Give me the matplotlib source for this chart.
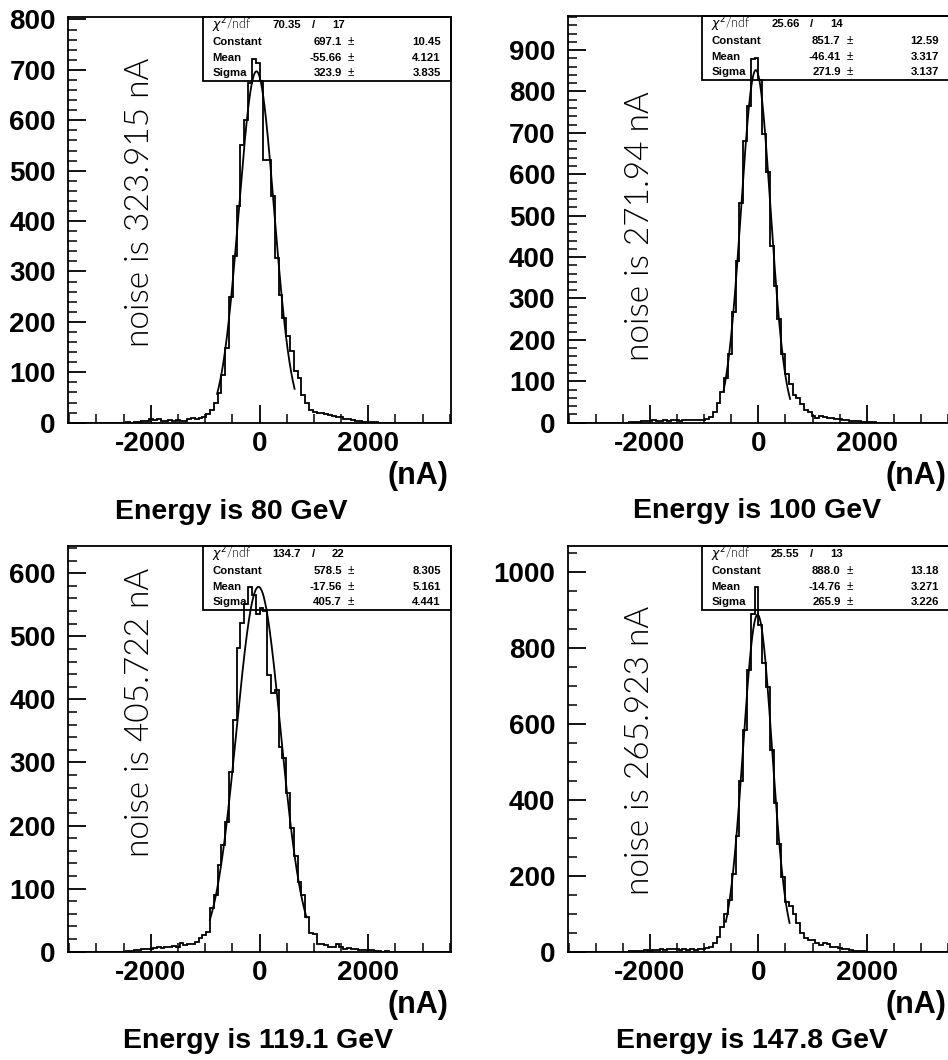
import numpy as np
import matplotlib
matplotlib.use("Agg")
import matplotlib.pyplot as plt
from matplotlib.patches import Rectangle
from matplotlib.ticker import MultipleLocator

plt.rcParams["axes.unicode_minus"] = False

# ---------------- data ----------------
x_lo, x_hi, n_bins = -3500.0, 3500.0, 100

energies = ["80", "100", "119.1", "147.8"]
noise = ["323.915", "271.94", "405.722", "265.923"]

counts_80 = [
    0, 0, 0, 0, 0, 0, 0, 0, 0, 0,
    0, 0, 0, 0, 0, 1, 0, 1, 2, 4,
    3, 7, 5, 8, 3, 4, 6, 4, 5, 3,
    4, 8, 9, 8, 10, 12, 18, 25, 40, 58,
    95, 148, 250, 330, 430, 550, 600, 673, 722, 713,
    677, 521, 521, 450, 326, 254, 207, 172, 142, 103,
    88, 55, 40, 25, 21, 20, 19, 18, 16, 14,
    12, 11, 8, 8, 5, 4, 3, 2, 1, 1,
    1, 0, 0, 0, 0, 0, 0, 0, 0, 0,
    0, 0, 0, 0, 0, 0, 0, 0, 0, 0,
]
counts_100 = [
    0, 0, 0, 0, 0, 0, 0, 0, 0, 0,
    0, 0, 0, 0, 0, 0, 1, 1, 2, 3,
    5, 4, 6, 5, 4, 7, 5, 6, 6, 5,
    6, 6, 7, 6, 7, 6, 10, 14, 27, 47,
    75, 107, 167, 268, 390, 530, 680, 765, 878, 880,
    828, 697, 605, 426, 330, 250, 165, 118, 93, 68,
    60, 45, 30, 25, 15, 12, 16, 14, 12, 11,
    10, 8, 7, 6, 5, 4, 3, 2, 2, 1,
    1, 0, 0, 0, 0, 0, 0, 0, 0, 0,
    0, 0, 0, 0, 0, 0, 0, 0, 0, 0,
]
counts_119 = [
    0, 0, 0, 0, 0, 0, 0, 0, 0, 0,
    0, 0, 0, 0, 0, 1, 1, 2, 3, 4,
    5, 5, 6, 7, 6, 8, 7, 9, 8, 14,
    10, 13, 12, 16, 21, 26, 32, 69, 90, 137,
    169, 206, 285, 367, 481, 521, 552, 578, 566, 535,
    545, 540, 439, 410, 415, 325, 307, 251, 196, 151,
    111, 90, 55, 30, 28, 13, 12, 10, 8, 7,
    12, 8, 5, 6, 4, 5, 3, 3, 2, 2,
    1, 1, 0, 1, 0, 0, 0, 0, 0, 0,
    0, 0, 0, 0, 0, 0, 0, 0, 0, 0,
]
counts_148 = [
    0, 0, 0, 0, 0, 0, 0, 0, 0, 0,
    0, 0, 0, 0, 0, 0, 1, 1, 2, 3,
    4, 3, 5, 4, 6, 5, 7, 6, 6, 5,
    6, 5, 6, 5, 6, 7, 9, 13, 24, 40,
    65, 100, 136, 205, 305, 450, 584, 742, 891, 962,
    861, 760, 698, 531, 391, 285, 198, 132, 120, 100,
    75, 50, 35, 31, 30, 22, 18, 22, 19, 13,
    12, 10, 8, 6, 4, 3, 2, 1, 0, 0,
    0, 0, 0, 0, 0, 0, 0, 0, 0, 0,
    0, 0, 0, 0, 0, 0, 0, 0, 0, 0,
]
all_counts = [counts_80, counts_100, counts_119, counts_148]

chi2 = ["70.35", "25.66", "134.7", "25.55"]
ndf = ["17", "14", "22", "13"]
const_val = [697.1, 851.7, 578.5, 888.0]
const_err = ["10.45", "12.59", "8.305", "13.18"]
mean_val = [-55.66, -46.41, -17.56, -14.76]
mean_err = ["4.121", "3.317", "5.161", "3.271"]
sigma_val = [323.9, 271.9, 405.7, 265.9]
sigma_err = ["3.835", "3.137", "4.441", "3.226"]
fit_lo = [-780, -640, -913, -600]
fit_hi = [645, 585, 864, 575]

y_max = [805.5, 983.0, 643.7, 1069.8]
y_major = [100, 100, 100, 200]
y_minor = [20, 20, 20, 50]
x_ticks = [-2000, 0, 2000]

# ---------------- layout (pixels) ----------------
W, H = 948, 1060
axes_px = [(68.3, 16.7, 450.7, 422.7), (567.7, 15.7, 949.0, 422.7),
           (68.3, 545.7, 450.7, 951.7), (567.7, 545.7, 949.0, 951.7)]
title_px = [(231, 519), (757.5, 518), (258, 1048), (752.5, 1048)]

BOLD = "Liberation Sans"
THIN = ["Lato", "DejaVu Sans"]
fig = plt.figure(figsize=(W / 100, H / 100), dpi=100)

edges = np.linspace(x_lo, x_hi, n_bins + 1)

for k in range(4):
    l, t, r, b = axes_px[k]
    ax = fig.add_axes([l / W, 1 - b / H, (r - l) / W, (b - t) / H])
    ax.stairs(all_counts[k], edges, color="black", lw=1.3, zorder=3)
    xf = np.linspace(fit_lo[k], fit_hi[k], 300)
    yf = const_val[k] * np.exp(-0.5 * ((xf - mean_val[k]) / sigma_val[k]) ** 2)
    ax.plot(xf, yf, color="black", lw=1.3, zorder=4)

    ax.set_xlim(-3515, 3515)
    ax.set_ylim(0, y_max[k])
    ax.set_xticks(x_ticks)
    ax.xaxis.set_minor_locator(MultipleLocator(500))
    ax.yaxis.set_major_locator(MultipleLocator(y_major[k]))
    ax.yaxis.set_minor_locator(MultipleLocator(y_minor[k]))
    ax.tick_params(which="major", direction="in", length=13, width=1.3,
                   top=False, right=False)
    ax.tick_params(which="minor", direction="in", length=6.5, width=1.1,
                   top=False, right=False)
    ax.tick_params(axis="x", which="major", pad=6)
    ax.tick_params(axis="y", which="major", pad=9)
    for lab in ax.get_xticklabels() + ax.get_yticklabels():
        lab.set_fontfamily(BOLD)
        lab.set_fontweight("bold")
        lab.set_fontsize(20)
    for sp in ax.spines.values():
        sp.set_linewidth(1.3)

    # noise label
    ax.text(-2190, 150, "noise is %s nA" % noise[k], rotation=90,
            ha="center", va="bottom", fontsize=24, color="black",
            family=THIN, fontweight=300, zorder=2)

    # stats box
    ax.add_patch(Rectangle((0.353, 0.842), 0.647, 0.158, transform=ax.transAxes,
                           fill=False, lw=1.3, ec="black", zorder=5, clip_on=False))
    rows_y = [0.980, 0.937, 0.899, 0.861]
    ax.text(0.377, rows_y[0], r"$\chi^{2}$/ndf", transform=ax.transAxes,
            fontsize=9, family=THIN, fontweight=300, color="black",
            va="center", ha="left")
    ax.text(0.608, rows_y[0], chi2[k], transform=ax.transAxes, fontsize=8.2,
            family=BOLD, fontweight="bold", va="center", ha="right")
    ax.text(0.640, rows_y[0], "/", transform=ax.transAxes, fontsize=8.2,
            family=BOLD, fontweight="bold", va="center", ha="center")
    ax.text(0.689, rows_y[0], ndf[k], transform=ax.transAxes, fontsize=8.2,
            family=BOLD, fontweight="bold", va="center", ha="left")
    names = ["Constant", "Mean", "Sigma"]
    vals = ["%.1f" % const_val[k], "%.2f" % mean_val[k], "%.1f" % sigma_val[k]]
    errs = [const_err[k], mean_err[k], sigma_err[k]]
    for j in range(3):
        yy = rows_y[j + 1]
        ax.text(0.377, yy, names[j], transform=ax.transAxes, fontsize=8.2,
                family=BOLD, fontweight="bold", va="center", ha="left")
        ax.text(0.716, yy, vals[j], transform=ax.transAxes, fontsize=8.2,
                family=BOLD, fontweight="bold", va="center", ha="right")
        ax.text(0.740, yy, "\u00b1", transform=ax.transAxes, fontsize=8.5,
                family=BOLD, va="center", ha="center")
        ax.text(0.974, yy, errs[j], transform=ax.transAxes, fontsize=8.2,
                family=BOLD, fontweight="bold", va="center", ha="right")

    # axis unit and title
    fig.text((r - 2.7) / W, 1 - (b + 53.5) / H, "(nA)", ha="right", va="center",
             fontsize=22, family=BOLD, fontweight="bold")
    tx, ty = title_px[k]
    fig.text(tx / W, 1 - ty / H, "Energy is %s GeV" % energies[k], ha="center",
             va="baseline", fontsize=20.5, family=BOLD, fontweight="bold")

fig.savefig("out.png", dpi=100)
